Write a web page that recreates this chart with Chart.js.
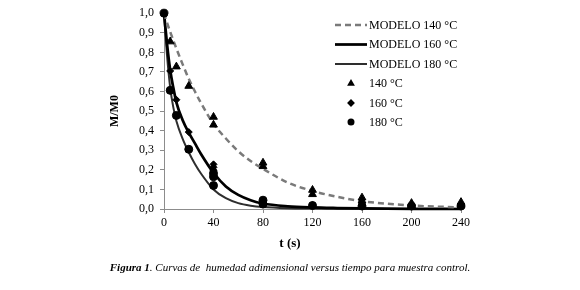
<!DOCTYPE html>
<html><head><meta charset="utf-8">
<script src="https://cdn.jsdelivr.net/npm/chart.js@4"></script>
<style>
html,body{margin:0;padding:0;background:#fff;}
#wrap{position:relative;width:580px;height:290px;overflow:hidden;}
canvas{position:absolute;left:0;top:0;}
#xt{position:absolute;left:0;width:580px;top:235px;text-align:center;font:bold 13px "Liberation Serif";color:#000;}
#cap{position:absolute;left:0;width:580px;top:261px;text-align:center;font:italic 11px "Liberation Serif";color:#000;white-space:pre;}
</style></head>
<body><div id="wrap"><canvas id="c" width="580" height="290"></canvas><div id="xt">t (s)</div><div id="cap"><b>Figura 1</b>. Curvas de  humedad adimensional versus tiempo para muestra control.</div></div>
<script>
// ---- data ----
const modelTimes = [0,2.5,5,7.5,10,15,20,25,30,40,50,60,70,80,100,120,140,160,200,240];
const model140 = [1.0,0.95,0.905,0.862,0.82,0.74,0.665,0.6,0.54,0.435,0.36,0.295,0.245,0.205,0.135,0.092,0.062,0.04,0.018,0.008];
const model160 = [1.0,0.84,0.71,0.62,0.545,0.455,0.39,0.335,0.28,0.185,0.115,0.072,0.045,0.028,0.014,0.008,0.005,0.003,0.001,0.0];
const model180 = [1.0,0.78,0.62,0.52,0.45,0.36,0.29,0.23,0.18,0.10,0.055,0.03,0.017,0.01,0.004,0.002,0.001,0.001,0.0,0.0];

const obsTimes140 = [5,10,20,40,40,80,80,120,120,160,160,200,200,240,240];
const obs140 = [0.855,0.727,0.628,0.47,0.43,0.236,0.218,0.097,0.075,0.058,0.042,0.03,0.018,0.035,0.02];
const obsTimes160 = [5,10,20,40,40,40,80,80,120,160,200,240];
const obs160 = [0.705,0.558,0.393,0.228,0.213,0.198,0.042,0.03,0.02,0.02,0.02,0.02];
const obsTimes180 = [0,5,10,20,40,40,40,80,80,120,160,200,240];
const obs180 = [1.0,0.606,0.478,0.305,0.182,0.165,0.12,0.045,0.025,0.018,0.015,0.015,0.015];

const seriesLabels = ['MODELO 140 °C','MODELO 160 °C','MODELO 180 °C','140 °C','160 °C','180 °C'];
const xTicks = [0,40,80,120,160,200,240];
const yTicks = [0,0.1,0.2,0.3,0.4,0.5,0.6,0.7,0.8,0.9,1.0];

const pts = (xs, ys) => xs.map((x, i) => ({x: x, y: ys[i]}));
const FONT = '"Liberation Serif", "Times New Roman", serif';

const lineDs = (label, ys, color, width, dash) => ({
  type: 'line', label, data: pts(modelTimes, ys), showLine: true,
  borderColor: color, borderWidth: width, borderDash: dash, pointRadius: 0,
  cubicInterpolationMode: 'monotone', fill: false, order: 2, clip: false
});
const markDs = (label, xs, ys, style, r) => ({
  type: 'scatter', label, data: pts(xs, ys), showLine: false,
  pointStyle: style, pointRadius: r, backgroundColor: '#000', borderColor: '#000',
  borderWidth: 1, order: 1, clip: false
});

const datasets = [
  lineDs(seriesLabels[0], model140, '#7a7a7a', 2.5, [6,4]),
  lineDs(seriesLabels[1], model160, '#000000', 2.75, []),
  lineDs(seriesLabels[2], model180, '#2e2e2e', 2, []),
  markDs(seriesLabels[3], obsTimes140, obs140, 'triangle', 4.5),
  markDs(seriesLabels[4], obsTimes160, obs160, 'rectRot', 3.5),
  markDs(seriesLabels[5], obsTimes180, obs180, 'circle', 4)
];

const legendPlugin = {
  id: 'customLegend',
  afterDraw(chart) {
    const ctx = chart.ctx;
    const x0 = 335, x1 = 367, tx = 369, mx = 351;
    const rows = [25, 44.5, 64, 83.5, 103, 122];
    ctx.save();
    chart.data.datasets.forEach((ds, i) => {
      const y = rows[i];
      if (ds.type === 'line') {
        ctx.beginPath();
        ctx.strokeStyle = ds.borderColor;
        ctx.lineWidth = ds.borderWidth;
        ctx.setLineDash(ds.borderDash || []);
        ctx.moveTo(x0, y); ctx.lineTo(x1, y); ctx.stroke();
        ctx.setLineDash([]);
      } else {
        ctx.fillStyle = '#000'; ctx.strokeStyle = '#000';
        Chart.helpers.drawPoint(ctx, {pointStyle: ds.pointStyle, radius: 2.5, rotation: 0, borderWidth: 1}, mx, y);
      }
      ctx.fillStyle = '#000';
      ctx.font = '12px ' + FONT;
      ctx.textAlign = 'left'; ctx.textBaseline = 'middle';
      ctx.fillText(ds.label, tx, y + 0.5);
    });
    ctx.restore();
  }
};

new Chart(document.getElementById('c'), {
  type: 'scatter',
  data: { datasets },
  plugins: [legendPlugin],
  options: {
    responsive: false, animation: false,
    layout: { padding: { left: 100, right: 119, top: 9, bottom: 0 } },
    plugins: { legend: { display: false }, tooltip: { enabled: false } },
    scales: {
      x: {
        type: 'linear', min: 0, max: 240,
        afterFit: s => { s.height = 81; },
        afterBuildTicks: s => { s.ticks = xTicks.map(v => ({value: v})); },
        ticks: { color: '#000', font: { family: FONT, size: 12 }, padding: 3, maxRotation: 0 },
        grid: { drawOnChartArea: false, drawTicks: true, tickLength: 4, color: '#8c8c8c' },
        border: { display: true, color: '#8c8c8c', width: 1 }
      },
      y: {
        type: 'linear', min: 0, max: 1,
        afterFit: s => { s.width = 64; },
        afterBuildTicks: s => { s.ticks = yTicks.map(v => ({value: v})); },
        ticks: { color: '#000', font: { family: FONT, size: 12 }, padding: 6,
          callback: v => Number(v).toFixed(1).replace('.', ',') },
        grid: { drawOnChartArea: false, drawTicks: true, tickLength: 4, color: '#8c8c8c' },
        border: { display: true, color: '#8c8c8c', width: 1 },
        title: { display: true, text: 'M/M0', color: '#000', font: { family: FONT, size: 12, weight: 'bold' }, padding: { top: 8, bottom: 0 } }
      }
    }
  }
});
</script>
</body></html>
